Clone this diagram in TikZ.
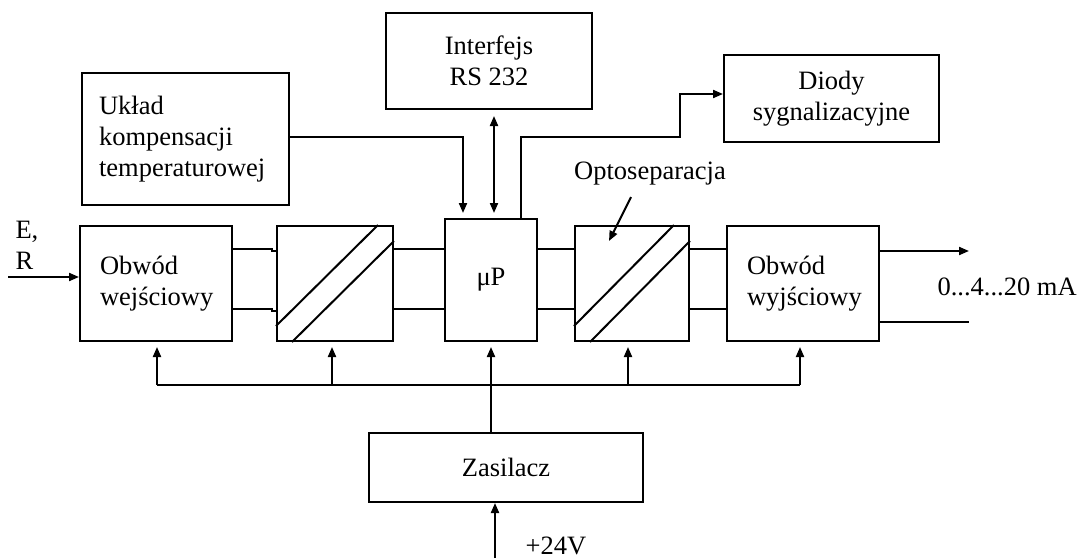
\documentclass[tikz,border=0pt]{standalone}
\usepackage{fontspec}
\setmainfont{Liberation Serif}
\usetikzlibrary{arrows.meta,calc}

\begin{document}
\begin{tikzpicture}[x=1pt,y=-1pt,
  txt/.style={font=\fontsize{26.5}{31}\selectfont},
  blok/.style={draw,line width=2pt,txt,inner sep=0pt,align=center},
  lblok/.style={draw,line width=2pt,txt,inner ysep=0pt,align=left},
  wire/.style={line width=2pt},
  arr/.style={wire,-{Triangle[length=10pt,width=8pt]}},
  darr/.style={wire,{Triangle[length=10pt,width=8pt]}-{Triangle[length=10pt,width=8pt]}},
  conv/.style={draw,line width=2pt,inner sep=0pt}]

\useasboundingbox (0,0) rectangle (1077,558);

% blocks of the upper row
\node[lblok,text width=173pt,inner xsep=17pt,minimum height=132pt] (uklad) at (185.5,139)
  {Układ\\kompensacji\\temperaturowej};
\node[blok,minimum width=206pt,minimum height=96pt] (inter) at (489,61) {Interfejs\\RS 232};
\node[blok,minimum width=215pt,minimum height=87pt] (diody) at (831.5,98.5) {Diody\\sygnalizacyjne};

% signal path
\node[lblok,text width=112pt,inner xsep=20pt,minimum height=115pt] (wej) at (156,283.5)
  {Obwód\\wejściowy};
\node[conv,minimum width=116pt,minimum height=115pt] (c1) at (335,283.5) {};
\node[blok,minimum width=92pt,minimum height=122pt] (mp) at (491,280) {μP};
\node[conv,minimum width=114pt,minimum height=115pt] (c2) at (632,283.5) {};
\node[lblok,text width=112pt,inner xsep=20pt,minimum height=115pt] (wyj) at (803,283.5)
  {Obwód\\wyjściowy};

% power supply
\node[blok,minimum width=274pt,minimum height=69pt] (zas) at (506,467.5) {Zasilacz};

% diagonal strokes of the separation blocks
\foreach \c in {c1,c2}{
  \draw[wire] ($(\c.south west)+(0,-16)$) -- ($(\c.north east)+(-16,0)$);
  \draw[wire] ($(\c.south west)+(16,0)$) -- ($(\c.north east)+(0,16)$);
}

% input
\coordinate (inp) at (8,277);
\node[txt,anchor=west,align=left] (er) at (12,245) {E,\\R};
\draw[arr] (inp) -- (inp -| wej.west);

% two-wire link after the input circuit (with a small step before the separator)
\foreach \y in {249,309}{
  \draw[wire] (wej.east |- 0,\y) -- (272,\y) -- (272,\y+2) -- (c1.west |- 0,\y+2);
}
% two-wire links between the remaining blocks
\foreach \a/\b in {c1/mp,mp/c2,c2/wyj}{
  \draw[wire] (\a.east |- 0,249) -- (\b.west |- 0,249);
  \draw[wire] (\a.east |- 0,309) -- (\b.west |- 0,309);
}

% output
\coordinate (o1) at (969,251);
\coordinate (o2) at (969,322);
\draw[arr] (o1 -| wyj.east) -- (o1);
\draw[wire] (o2 -| wyj.east) -- (o2);
\node[txt,anchor=west] (ma) at (934,287) {0...4...20 mA};

% temperature compensation to the microprocessor
\coordinate (k1) at (463,137);
\draw[arr,shorten >=5pt] (uklad.east |- k1) -- (k1) -- (k1 |- mp.north);

% RS 232 link
\coordinate (r1) at (494,0);
\draw[darr,shorten <=6pt,shorten >=5pt] (r1 |- inter.south) -- (r1 |- mp.north);

% LED signalling
\coordinate (d1) at (521,137);
\coordinate (d2) at (680,94);
\draw[arr] (d1 |- mp.north) -- (d1) -- (d2 |- d1) -- (d2) -- (d2 -| diody.west);

% optoseparation label
\node[txt] (opto) at (650,174) {Optoseparacja};
\coordinate (oa) at (631,197);
\coordinate (ob) at (609,241);
\draw[arr] (oa) -- (ob);

% supply bus
\coordinate (b1) at (157,385);
\coordinate (b2) at (332,385);
\coordinate (b3) at (628,385);
\coordinate (b4) at (800,385);
\draw[wire] (b1) -- (b4);
\draw[arr,shorten >=5pt] (b1) -- (b1 |- wej.south);
\draw[arr,shorten >=5pt] (b2) -- (b2 |- c1.south);
\draw[arr,shorten >=5pt] (b3) -- (b3 |- c2.south);
\draw[arr,shorten >=5pt] (b4) -- (b4 |- wyj.south);
\draw[arr,shorten >=5pt] (mp.south |- zas.north) -- (mp.south);

% 24 V feed
\coordinate (v1) at (495,558);
\draw[arr] (v1) -- (v1 |- zas.south);
\node[txt,anchor=base] (v24) at (556,554) {+24V};

\end{tikzpicture}
\end{document}
